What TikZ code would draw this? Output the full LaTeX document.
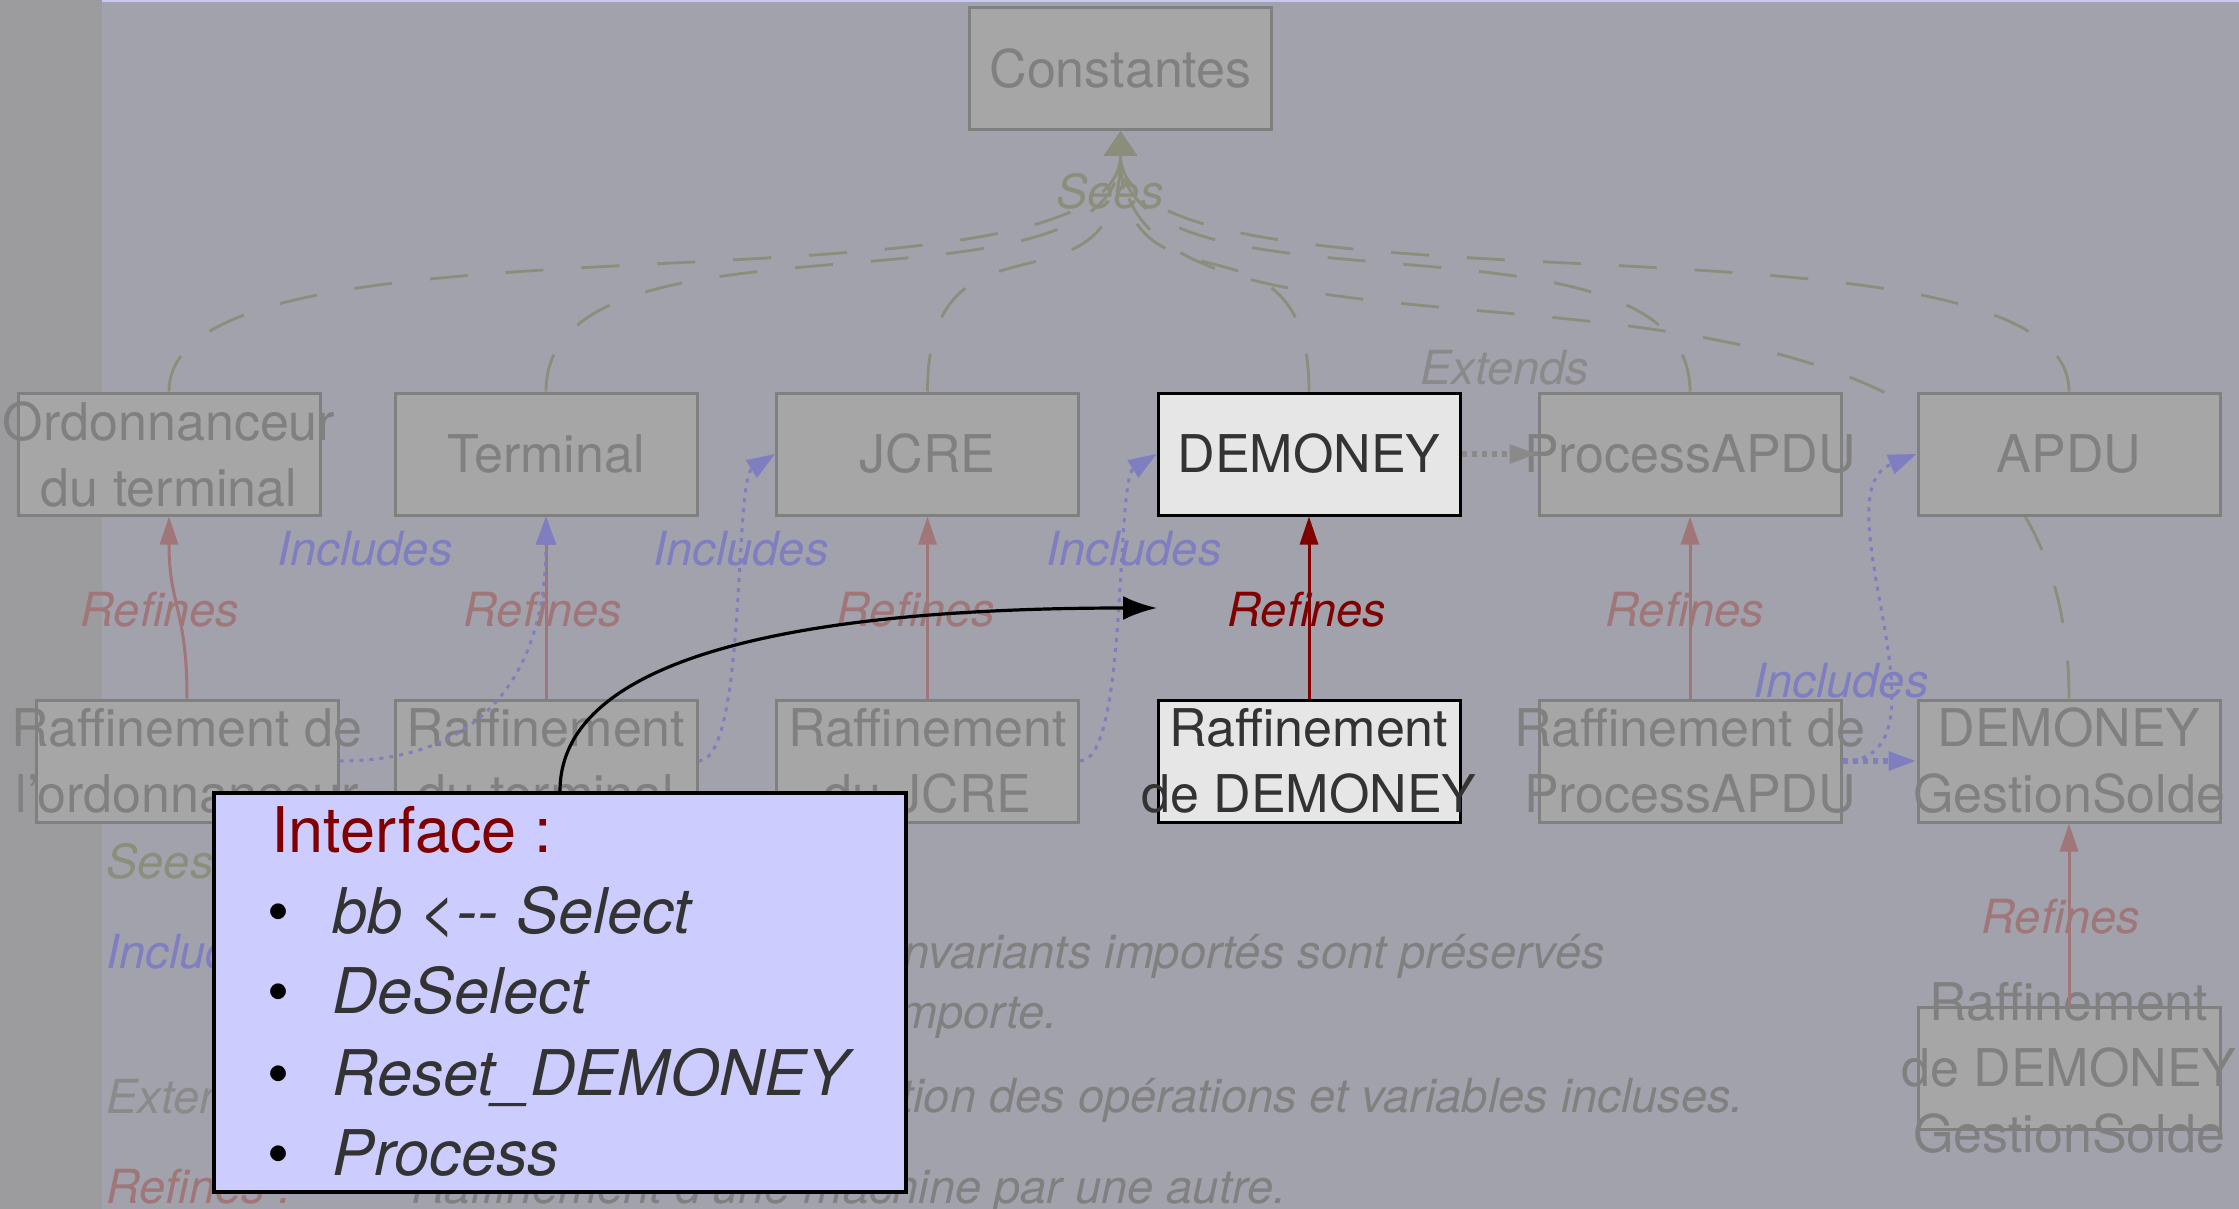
\documentclass[tikz,border=0pt]{standalone}
\usepackage{fontspec}
\setmainfont{TeX Gyre Heros}
\usetikzlibrary{arrows.meta}
\pgfdeclarelayer{bg}
\pgfdeclarelayer{back}
\pgfsetlayers{bg,back,main}
\definecolor{bgcol}{RGB}{162,162,172}
\definecolor{stripcol}{RGB}{156,156,158}
\definecolor{toplinecol}{RGB}{200,200,245}
\definecolor{boxfill}{RGB}{166,166,166}
\definecolor{boxdraw}{RGB}{128,128,128}
\definecolor{boxtext}{RGB}{128,128,128}
\definecolor{hifill}{RGB}{230,230,230}
\definecolor{hitext}{RGB}{51,51,51}
\definecolor{seescol}{RGB}{138,142,122}
\definecolor{refcol}{RGB}{160,118,120}
\definecolor{inccol}{RGB}{126,126,192}
\definecolor{extcol}{RGB}{138,138,138}
\definecolor{hired}{RGB}{128,0,0}
\definecolor{ifill}{RGB}{204,204,255}
\definecolor{desccol}{RGB}{128,128,128}
\begin{document}
\begin{tikzpicture}[x=0.5pt,y=-0.5pt,
  box/.style={draw=boxdraw, fill=boxfill, line width=1.5pt, minimum width=151pt, minimum height=61pt, inner sep=0pt},
  hibox/.style={box, draw=black, fill=hifill},
  btext/.style={text=boxtext, align=center, font=\fontsize{26}{33}\selectfont, inner sep=0pt},
  hbtext/.style={btext, text=hitext},
  lbl/.style={font=\fontsize{23.5}{30}\selectfont\itshape, inner sep=0pt, anchor=base},
  leg/.style={font=\fontsize{23.5}{30}\selectfont\itshape, inner sep=0pt, anchor=base west},
  itext/.style={font=\fontsize{31.5}{40}\selectfont, inner sep=0pt, anchor=base west},
  sees/.style={draw=seescol, line width=1.4pt, dash pattern=on 19pt off 19pt, -{Triangle[length=12pt,width=16pt]}},
  refines/.style={draw=refcol, line width=1.5pt, -{Triangle[length=14pt,width=9pt]}},
  hirefines/.style={refines, draw=hired},
  includes/.style={draw=inccol, line width=1.5pt, dash pattern=on 2pt off 3pt, -{Triangle[length=14pt,width=10pt]}},
  includesS/.style={includes, line width=3pt, dash pattern=on 2.5pt off 2.5pt, -{Triangle[length=14pt,width=9pt]}},
  extends/.style={draw=extcol, line width=3pt, dash pattern=on 2.5pt off 2.5pt, -{Triangle[length=14pt,width=9pt]}}
]
\useasboundingbox (0,0) rectangle (2239,1209);
\begin{pgfonlayer}{bg}
  \fill[bgcol] (0,0) rectangle (2239,1209);
  \fill[stripcol] (0,0) rectangle (102,1209);
  \draw[toplinecol, line width=1pt] (102,1) -- (2239,1);
\end{pgfonlayer}

% boxes
\node[box] (const) at (1120.5,69) {};
\node[box] (ord) at (169,454) {};
\node[box] (term) at (546,454) {};
\node[box] (jcre) at (927.5,454) {};
\node[hibox] (demo) at (1309,454) {};
\node[box] (papdu) at (1690,454) {};
\node[box] (apdu) at (2069,454) {};
\node[box] (rord) at (187,761) {};
\node[box] (rterm) at (546,761) {};
\node[box] (rjcre) at (927.5,761) {};
\node[hibox] (rdemo) at (1309,761) {};
\node[box] (rpapdu) at (1690,761) {};
\node[box] (gsolde) at (2069,761) {};
\node[box] (rgsolde) at (2069,1068) {};

% box texts
\node[btext] (tconst) at (const) {Constantes};
\node[btext] (tord) at (ord) {Ordonnanceur\\du terminal};
\node[btext] (tterm) at (term) {Terminal};
\node[btext] (tjcre) at (jcre) {JCRE};
\node[hbtext] (tdemo) at (demo) {DEMONEY};
\node[btext] (tpapdu) at (papdu) {ProcessAPDU};
\node[btext] (tapdu) at (apdu) {APDU};
\node[btext] (trord) at (rord) {Raffinement de\\l'ordonnanceur};
\node[btext] (trterm) at (rterm) {Raffinement\\du terminal};
\node[btext] (trjcre) at (rjcre) {Raffinement\\du JCRE};
\node[hbtext] (trdemo) at (rdemo) {Raffinement\\de DEMONEY};
\node[btext] (trpapdu) at (rpapdu) {Raffinement de\\ProcessAPDU};
\node[btext] (tgsolde) at (gsolde) {DEMONEY\\GestionSolde};
\node[btext] (trgsolde) at (rgsolde) {Raffinement\\de DEMONEY\\GestionSolde};

% Sees edges (behind boxes)
\begin{pgfonlayer}{back}
  \foreach \n in {ord,term,jcre,demo,papdu,apdu}
    \draw[sees] (\n.north) .. controls +(0,-200) and +(0,200) .. (const.south);
  \draw[sees] (gsolde.north) .. controls +(0,-576) and +(0,320) .. (const.south);
\end{pgfonlayer}
\node[lbl, text=seescol] (seeslbl) at (1110,209) {Sees};

% Refines edges
\draw[refines] (rord.north) .. controls +(0,-90) and +(0,90) .. (ord.south);
\draw[refines] (rterm.north) -- (term.south);
\draw[refines] (rjcre.north) -- (jcre.south);
\draw[hirefines] (rdemo.north) -- (demo.south);
\draw[refines] (rpapdu.north) -- (papdu.south);
\draw[refines] (rgsolde.north) -- (gsolde.south);
\node[lbl, text=refcol] (ref1) at (160,626) {Refines};
\node[lbl, text=refcol] (ref2) at (543,626) {Refines};
\node[lbl, text=refcol] (ref3) at (916,626) {Refines};
\node[lbl, text=hired] (ref4) at (1307,626) {Refines};
\node[lbl, text=refcol] (ref5) at (1685,626) {Refines};
\node[lbl, text=refcol] (ref6) at (2061,933) {Refines};

% Includes edges
\draw[includes] (rord.east) .. controls +(150,0) and +(0,150) .. (term.south);
\draw[includes] (rterm.east) .. controls +(48,0) and +(-41,26) .. (jcre.west);
\draw[includes] (rjcre.east) .. controls +(48,0) and +(-41,26) .. (demo.west);
\draw[includes] (rpapdu.east) .. controls +(120,0) and +(-100,40) .. (apdu.west);
\draw[includesS] (rpapdu.east) -- (gsolde.west);
\node[lbl, text=inccol] (inc1) at (365,565) {Includes};
\node[lbl, text=inccol] (inc2) at (741,565) {Includes};
\node[lbl, text=inccol] (inc3) at (1134,565) {Includes};
\node[lbl, text=inccol] (inc4) at (1841,697) {Includes};

% Extends
\draw[extends] (demo.east) -- (papdu.west);
\node[lbl, text=extcol] (extlbl) at (1505,385) {Extends};

% Legend
\node[leg, text=seescol] (legsees) at (106,878) {Sees :};
\node[leg, text=inccol] (leginc) at (106,968) {Includes :};
\node[leg, text=extcol] (legext) at (106,1113) {Extends :};
\node[leg, text=refcol] (legref) at (106,1203) {Refines :};
\node[leg, text=desccol] (dinc1) at (903,968) {\llap{Inclusion de machines ; les i}nvariants importés sont préservés};
\node[leg, text=desccol] (dinc2) at (898,1028) {\llap{dans la machine qui l'i}mporte.};
\node[leg, text=desccol] (dext) at (900,1112) {\llap{Inclusion avec promo}tion des opérations et variables incluses.};
\node[leg, text=desccol] (dref) at (411,1203) {Raffinement d'une machine par une autre.};

% Interface box
\node[draw=black, fill=ifill, line width=2pt, minimum width=346pt, minimum height=199.5pt, inner sep=0pt] (iface) at (560,992.5) {};
\node[itext, text=hired] (ititle) at (271,852) {Interface :};
\node[itext, anchor=base] (b1) at (279,933) {\textbullet};
\node[itext, anchor=base] (b2) at (279,1013) {\textbullet};
\node[itext, anchor=base] (b3) at (279,1095) {\textbullet};
\node[itext, anchor=base] (b4) at (279,1175) {\textbullet};
\node[itext, text=hitext, font=\fontsize{31.5}{40}\selectfont\itshape] (i1) at (332,933) {bb <-{}- Select};
\node[itext, text=hitext, font=\fontsize{31.5}{40}\selectfont\itshape] (i2) at (332,1013) {DeSelect};
\node[itext, text=hitext, font=\fontsize{31.5}{40}\selectfont\itshape] (i3) at (332,1095) {Reset\_DEMONEY};
\node[itext, text=hitext, font=\fontsize{31.5}{40}\selectfont\itshape] (i4) at (332,1175) {Process};

% pointer arrow
\coordinate (tgt) at (1157,608);
\draw[black, line width=1.6pt, -{Latex[length=17pt,width=12pt]}] (iface.north) .. controls +(0,-153) and +(-287,0) .. (tgt);
\end{tikzpicture}
\end{document}
